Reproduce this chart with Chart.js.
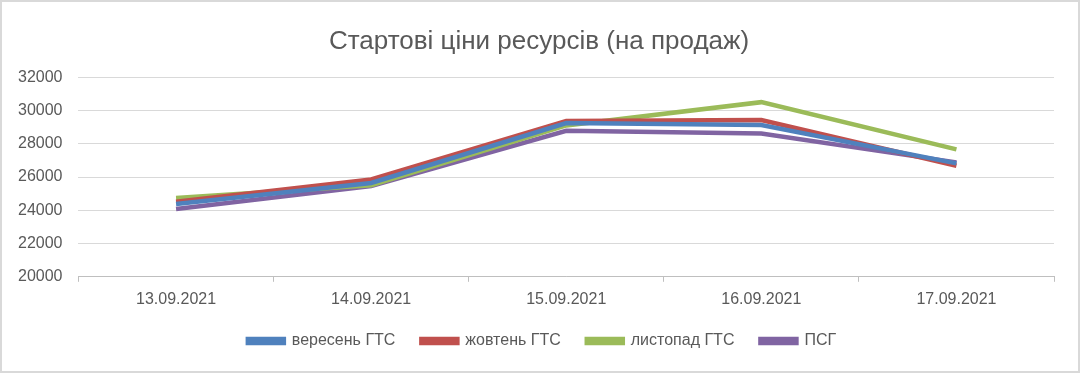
<!DOCTYPE html>
<html><head><meta charset="utf-8">
<script src="https://cdn.jsdelivr.net/npm/chart.js@4/dist/chart.umd.min.js"></script>
<style>
html,body{margin:0;padding:0;background:#fff;}
#wrap{position:absolute;left:0;top:0;width:1076px;height:369px;border:2px solid #d9d9d9;}
canvas{display:block;}
</style></head>
<body><div id="wrap"><canvas id="c" width="1076" height="369"></canvas></div>
<script>
const categories = ["13.09.2021","14.09.2021","15.09.2021","16.09.2021","17.09.2021"];
const seriesNames = ["вересень ГТС","жовтень ГТС","листопад ГТС","ПСГ"];
const veresen = [24380, 25640, 29240, 29120, 26820];
const zhovten = [24520, 25850, 29360, 29420, 26680];
const lystopad = [24740, 25500, 29100, 30500, 27660];
const psg = [24080, 25450, 28780, 28620, 26880];
const colors = ["#4F81BD","#C0504D","#9BBB59","#8064A2"];
const yTicks = [20000,22000,24000,26000,28000,30000,32000];

const dataArrays = [veresen, zhovten, lystopad, psg];
const font = "'Liberation Sans', Arial, sans-serif";

const legendTweak = {
  id: 'legendTweak',
  beforeInit(chart) {
    const lg = chart.legend;
    const origFit = lg.fit;
    lg.fit = function() { origFit.call(this); this.height -= 10; };
  },
  afterLayout(chart) {
    const lg = chart.legend;
    lg.left += 14; lg.right += 14; lg.top -= 10; lg.bottom -= 10;
    const t = chart.titleBlock;
    if (t) { t.left += 11; t.right += 11; }
  }
};

new Chart(document.getElementById('c'), {
  type: 'line',
  data: {
    labels: categories,
    datasets: seriesNames.map((n,i)=>({
      label: n, data: dataArrays[i], borderColor: colors[i], backgroundColor: colors[i],
      borderWidth: 4.5, pointRadius: 0, tension: 0, fill: false
    }))
  },
  plugins: [legendTweak],
  options: {
    responsive: false, animation: false,
    layout: {padding: {left: 0, right: 24, top: 4, bottom: 12}},
    plugins: {
      title: {display: true, text: "Стартові ціни ресурсів (на продаж)", color: '#595959',
        font: {family: font, size: 26, weight: 'normal'}, padding: {top: 20, bottom: 20}},
      legend: {position: 'bottom', labels: {color: '#595959', boxWidth: 36, boxHeight: 4,
        font: {family: font, size: 16}, padding: 26}},
      tooltip: {enabled: false}
    },
    scales: {
      x: {offset: true,
        grid: {offset: true, drawOnChartArea: false, drawTicks: true, tickLength: 5, color: '#bfbfbf'},
        border: {display: true, color: '#bfbfbf'},
        ticks: {color: '#595959', font: {family: font, size: 16}, padding: 8, maxRotation: 0}},
      y: {min: 20000, max: 32000,
        afterBuildTicks: ax => { ax.ticks = yTicks.map(v=>({value:v})); },
        grid: {color: '#d9d9d9', drawTicks: false},
        border: {display: false},
        ticks: {color: '#595959', font: {family: font, size: 16}, padding: 16,
          callback: v => String(v)}}
    }
  }
});
</script></body></html>
